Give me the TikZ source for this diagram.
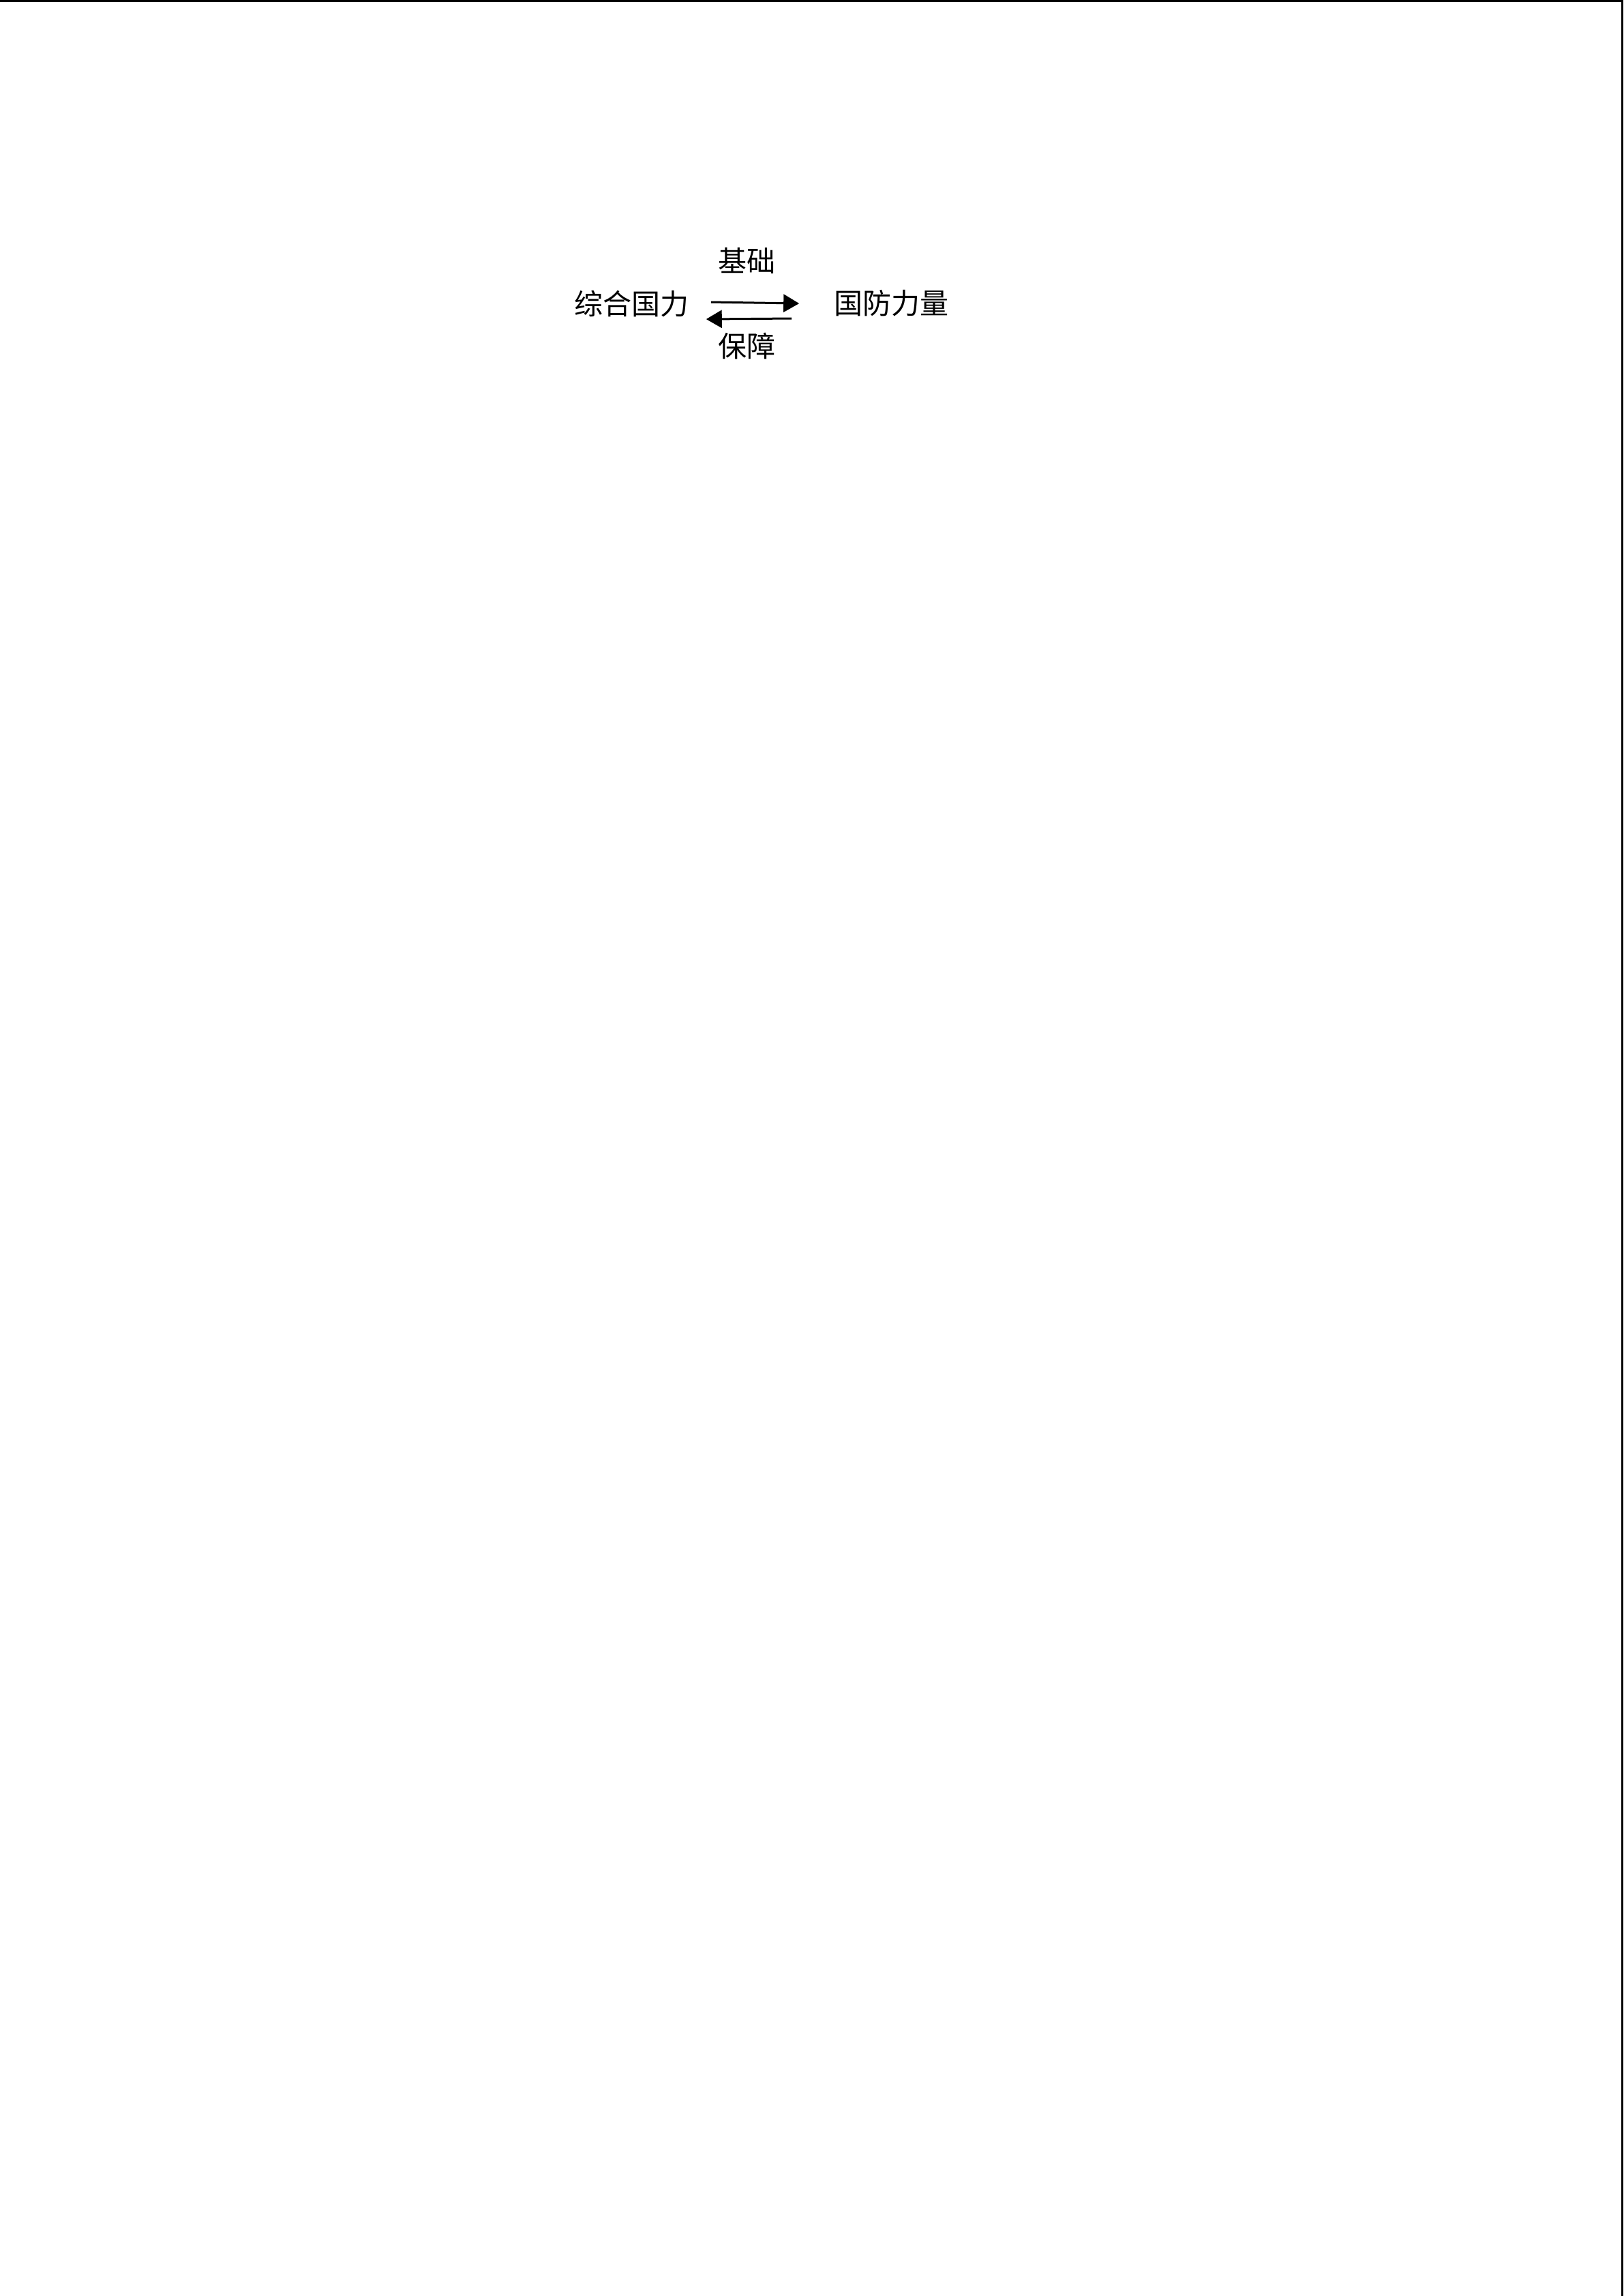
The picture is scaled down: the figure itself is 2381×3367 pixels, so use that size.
\documentclass[tikz,border=0pt]{standalone}
\usepackage{fontspec}
\setmainfont{Noto Sans CJK SC}
\usetikzlibrary{arrows.meta}
\tikzset{
  lbl/.style={inner sep=0pt, font=\fontsize{10.5pt}{12.6pt}\selectfont},
  arr/.style={line width=0.75pt, -{Triangle[length=5.75pt,width=6.5pt]}},
  edgeline/.style={line width=0.75pt}
}
\begin{document}
\begin{tikzpicture}[x=0.25pt,y=-0.25pt]
\useasboundingbox (0,0) rectangle (2381,3367);
\fill[white] (0,0) rectangle (2381,3367);
\coordinate (tl) at (0,1.5);
\coordinate (tr) at (2379.5,1.5);
\coordinate (br) at (2379.5,3367);
\draw[edgeline] (tl) -- (tr) -- (br);
\node[lbl] (A) at (926,445) {综合国力};
\node[lbl] (B) at (1307,445) {国防力量};
\node[lbl] (L1) at (1095,382) {基础};
\node[lbl] (L2) at (1095,507) {保障};
\draw[arr] ([shift={(32,-2)}]A.east) -- ([shift={(-50,0)}]B.west);
\draw[arr] ([shift={(-61,22)}]B.west) -- ([shift={(25,23)}]A.east);
\end{tikzpicture}
\end{document}
